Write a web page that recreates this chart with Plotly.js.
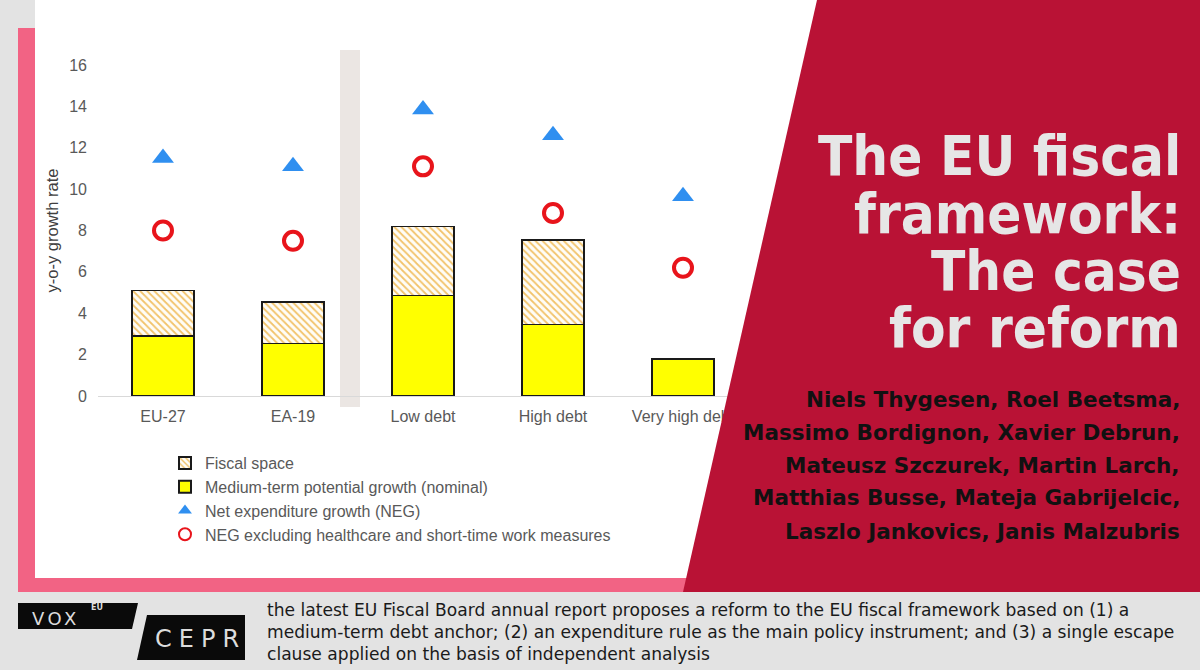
<!DOCTYPE html>
<html>
<head>
<meta charset="utf-8">
<script src="https://cdn.plot.ly/plotly-3.0.1.min.js"></script>
<style>html,body{margin:0;padding:0;background:#e3e3e3;}#chart{width:1200px;height:670px;}</style>
</head>
<body>
<div id="chart"></div>
<script>
// ---- data ----
const categories = ["EU-27", "EA-19", "Low debt", "High debt", "Very high debt"];
const potentialGrowth = [2.9, 2.55, 4.85, 3.45, 1.8];
const fiscalSpace = [2.2, 2.0, 3.35, 4.1, null];
const netExpGrowth = [11.5, 11.1, 13.85, 12.6, 9.65];
const negExcl = [8.0, 7.5, 11.1, 8.85, 6.2];
const yTicks = [0, 2, 4, 6, 8, 10, 12, 14, 16];
const seriesNames = ["Fiscal space", "Medium-term potential growth (nominal)", "Net expenditure growth (NEG)", "NEG excluding healthcare and short-time work measures"];
const titleLines = ["The EU fiscal", "framework:", "The case", "for reform"];
const authorLines = ["Niels Thygesen, Roel Beetsma,", "Massimo Bordignon, Xavier Debrun,", "Mateusz Szczurek, Martin Larch,", "Matthias Busse, Mateja Gabrijelcic,", "Laszlo Jankovics, Janis Malzubris"];
const summaryLines = ["the latest EU Fiscal Board annual report proposes a reform to the EU fiscal framework based on (1) a", "medium-term debt anchor; (2) an expenditure rule as the main policy instrument; and (3) a single escape", "clause applied on the basis of independent analysis"];

// ---- layout geometry (pixels) ----
const L = 98, R = 748, T = 65, B = 396;
const px = x => (x - L) / (R - L);
const py = y => (B - y) / (B - T);
const poly = pts => 'M' + pts.map(p => px(p[0]).toFixed(5) + ',' + py(p[1]).toFixed(5)).join('L') + 'Z';
const rect = (x0, y0, x1, y1, color, layer) => ({type: 'rect', xref: 'paper', yref: 'paper', x0: px(x0), x1: px(x1), y0: py(y1), y1: py(y0), fillcolor: color, line: {width: 0}, layer: layer || 'below'});

const traces = [
  {type: 'bar', name: seriesNames[1], x: categories, y: potentialGrowth, legendrank: 2,
   marker: {color: '#ffff00', line: {color: '#1a1a1a', width: 1.5}}, width: 0.475, hoverinfo: 'skip'},
  {type: 'bar', name: seriesNames[0], x: categories, y: fiscalSpace, legendrank: 1,
   marker: {color: '#ffffff', line: {color: '#1a1a1a', width: 1.5},
            pattern: {shape: '\\', fgcolor: '#f2c36a', bgcolor: '#fffdf7', size: 5, solidity: 0.35}},
   width: 0.475, hoverinfo: 'skip'},
  {type: 'scatter', mode: 'markers', name: seriesNames[2], x: categories, y: netExpGrowth, legendrank: 3,
   marker: {symbol: 'triangle-up', size: 19, color: '#2f8ff0'}, hoverinfo: 'skip'},
  {type: 'scatter', mode: 'markers', name: seriesNames[3], x: categories, y: negExcl, legendrank: 4,
   marker: {symbol: 'circle-open', size: 18, color: '#e8141b', line: {width: 4}}, hoverinfo: 'skip'}
];

const axisFont = {family: 'Liberation Sans, Arial, sans-serif', size: 16, color: '#595959'};

const annotations = [];
const titleBase = [175, 233, 290, 347];
titleLines.forEach((t, i) => annotations.push({
  xref: 'paper', yref: 'paper', x: px(1183), y: py(titleBase[i] - 20), xanchor: 'right', yanchor: 'middle',
  text: t, showarrow: false, align: 'right',
  font: {family: 'DejaVu Sans Condensed, DejaVu Sans, sans-serif', size: 56, weight: 'bold', color: '#e6e6e6'}
}));
authorLines.forEach((t, i) => annotations.push({
  xref: 'paper', yref: 'paper', x: px(1182), y: py(399 + 33 * i), xanchor: 'right', yanchor: 'middle',
  text: t, showarrow: false, align: 'right',
  font: {family: 'DejaVu Sans, sans-serif', size: 21.5, weight: 'bold', color: '#111111'}
}));
annotations.push({
  xref: 'paper', yref: 'paper', x: px(265), y: py(632), xanchor: 'left', yanchor: 'middle',
  text: summaryLines.join('<br>'), showarrow: false, align: 'left',
  font: {family: 'DejaVu Sans, sans-serif', size: 17.1, color: '#1a1a1a'}
});
annotations.push({
  xref: 'paper', yref: 'paper', x: px(30), y: py(618), xanchor: 'left', yanchor: 'middle',
  text: '<span style="letter-spacing:3.5px">VOX</span>', showarrow: false,
  font: {family: 'DejaVu Sans, sans-serif', size: 18, color: '#dcdcdc'}
});
annotations.push({
  xref: 'paper', yref: 'paper', x: px(89), y: py(607), xanchor: 'left', yanchor: 'middle',
  text: 'EU', showarrow: false,
  font: {family: 'DejaVu Sans, sans-serif', size: 8, weight: 'bold', color: '#dcdcdc'}
});
annotations.push({
  xref: 'paper', yref: 'paper', x: px(153), y: py(639), xanchor: 'left', yanchor: 'middle',
  text: '<span style="letter-spacing:7px">CEPR</span>', showarrow: false,
  font: {family: 'DejaVu Sans, sans-serif', size: 24, color: '#dcdcdc'}
});

const shapes = [
  rect(35, 0, 1200, 578, '#ffffff'),
  rect(18, 28, 35, 592, '#f26384'),
  rect(18, 578, 720, 592, '#f26384'),
  rect(340, 50, 360, 407, '#ebe6e3'),
  {type: 'path', xref: 'paper', yref: 'paper', path: poly([[817, 0], [1200, 0], [1200, 592], [683, 592]]),
   fillcolor: '#b91235', line: {width: 0}, layer: 'above'},
  {type: 'path', xref: 'paper', yref: 'paper', path: poly([[18, 603], [138, 603], [132, 629], [18, 629]]),
   fillcolor: '#0a0a0a', line: {width: 0}, layer: 'below'},
  {type: 'path', xref: 'paper', yref: 'paper', path: poly([[147, 615], [245, 615], [245, 660], [137, 660]]),
   fillcolor: '#0a0a0a', line: {width: 0}, layer: 'below'}
];

const layout = {
  width: 1200, height: 670,
  margin: {l: L, r: 1200 - R, t: T, b: 670 - B, pad: 0},
  paper_bgcolor: '#e3e3e3', plot_bgcolor: 'rgba(0,0,0,0)',
  barmode: 'stack',
  showlegend: true,
  legend: {x: px(165), y: py(446), xanchor: 'left', yanchor: 'top', traceorder: 'normal',
           bgcolor: 'rgba(0,0,0,0)', itemsizing: 'constant', font: axisFont},
  xaxis: {type: 'category', range: [-0.5, 4.5], showgrid: false, zeroline: false, showline: true,
          linecolor: '#d9d9d9', linewidth: 1, tickfont: axisFont, ticks: '', ticklabelstandoff: 6, fixedrange: true},
  yaxis: {range: [0, 16], tickvals: yTicks, showgrid: false, zeroline: false, showline: false,
          tickfont: axisFont, ticks: '', ticklabelstandoff: 10, fixedrange: true,
          title: {text: 'y-o-y growth rate', standoff: 6, font: {family: 'Liberation Sans, Arial, sans-serif', size: 16.5, color: '#404040'}}},
  shapes: shapes,
  annotations: annotations
};

Plotly.newPlot('chart', traces, layout, {displayModeBar: false, staticPlot: true});
</script>
</body>
</html>
